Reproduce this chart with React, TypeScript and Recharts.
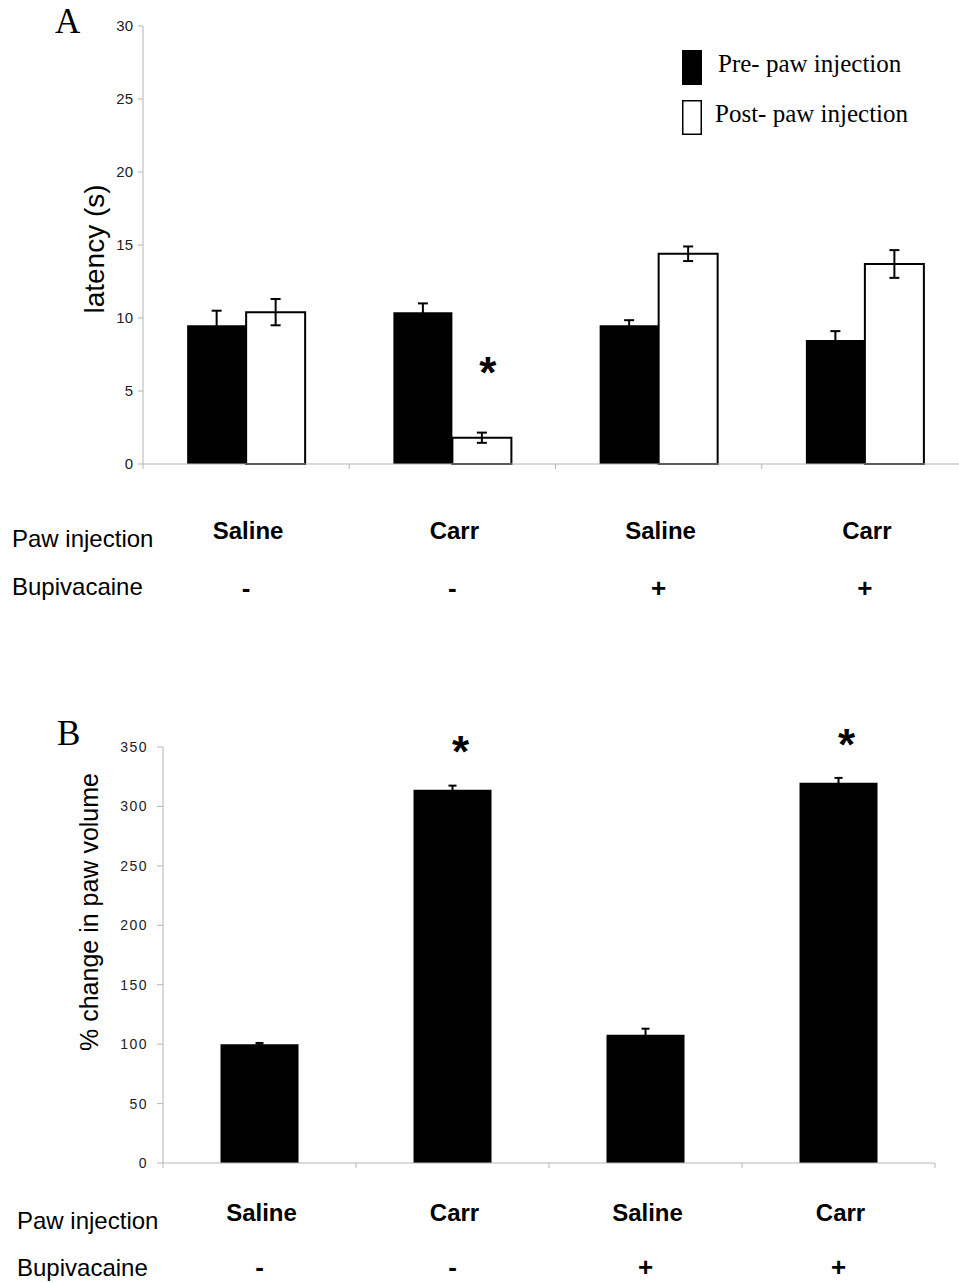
import React from "react";
import { Bar, BarChart, ErrorBar, LabelList, XAxis, YAxis } from "recharts";

const groupLabels = ["Saline", "Carr", "Saline", "Carr"];
const bupivacaineSigns = ["-", "-", "+", "+"];

// panel A: withdrawal latency (s)
const preLatency = [9.5, 10.4, 9.5, 8.5];
const preLatencyErr = [1.0, 0.6, 0.35, 0.6];
const postLatency = [10.4, 1.8, 14.4, 13.7];
const postLatencyErr = [0.9, 0.35, 0.5, 0.95];
const postLatencyStars = ["", "*", "", ""];
const latencyTicks = [0, 5, 10, 15, 20, 25, 30];

// panel B: % change in paw volume
const pawVolume = [100, 314, 108, 320];
const pawVolumeErr = [1, 3.5, 5, 4];
const pawVolumeStars = ["", "*", "", "*"];
const volumeTicks = [0, 50, 100, 150, 200, 250, 300, 350];

const latencyData = groupLabels.map((_, i) => ({
  id: String(i),
  pre: preLatency[i],
  preErr: preLatencyErr[i],
  post: postLatency[i],
  postErr: postLatencyErr[i],
  star: postLatencyStars[i],
}));

const volumeData = groupLabels.map((_, i) => ({
  id: String(i),
  volume: pawVolume[i],
  volumeErr: pawVolumeErr[i],
  star: pawVolumeStars[i],
}));

const SANS = "'Liberation Sans', Arial, sans-serif";
const SERIF = "'Liberation Serif', 'Times New Roman', serif";
const AXIS_GRAY = "#b5b5b5";

interface TickOpts {
  halfBand: number;
  labelDy: number;
  signDy: number;
  rowX: number;
  rowDy1: number;
  rowDy2: number;
}

function makeGroupTick(opts: TickOpts) {
  return (props: any) => {
    const { x, y, payload } = props;
    const i = Number(payload.value);
    const half = payload.offset || opts.halfBand;
    const last = i === groupLabels.length - 1;
    return (
      <g>
        <line x1={x - half} y1={y} x2={x - half} y2={y + 5} stroke={AXIS_GRAY} />
        {last && <line x1={x + half} y1={y} x2={x + half} y2={y + 5} stroke={AXIS_GRAY} />}
        <text
          x={x + 2}
          y={y + opts.labelDy}
          textAnchor="middle"
          dominantBaseline="central"
          fontFamily={SANS}
          fontSize={24}
          fontWeight="bold"
          fill="#000"
        >
          {groupLabels[i]}
        </text>
        <text
          x={x}
          y={y + opts.signDy}
          textAnchor="middle"
          dominantBaseline="central"
          fontFamily={SANS}
          fontSize={26}
          fontWeight="bold"
          fill="#000"
        >
          {bupivacaineSigns[i]}
        </text>
        {i === 0 && (
          <>
            <text x={opts.rowX} y={y + opts.rowDy1} dominantBaseline="central" fontFamily={SANS} fontSize={24} fill="#000">
              Paw injection
            </text>
            <text x={opts.rowX} y={y + opts.rowDy2} dominantBaseline="central" fontFamily={SANS} fontSize={24} fill="#000">
              Bupivacaine
            </text>
          </>
        )}
      </g>
    );
  };
}

function makeStar(lift: number, dx: number) {
  return (p: any) => {
    if (!p.value) return null;
    return (
      <text
        x={p.x + p.width / 2 + dx}
        y={p.y - lift}
        textAnchor="middle"
        fontFamily={SANS}
        fontSize={44}
        fontWeight="bold"
        fill="#000"
      >
        {p.value}
      </text>
    );
  };
}

export default function App() {
  return (
    <div
      style={{
        position: "fixed",
        left: 0,
        top: 0,
        width: 959,
        height: 1283,
        overflow: "hidden",
        background: "#fff",
      }}
    >
      <div style={{ position: "absolute", left: 0, top: 0 }}>
        <BarChart
          width={1000}
          height={604}
          data={latencyData}
          margin={{ top: 26, right: 32, left: 0, bottom: 0 }}
          barGap={0}
          barCategoryGap="21.4%"
        >
          <XAxis
            dataKey="id"
            interval={0}
            height={140}
            tickLine={false}
            tickSize={0}
            tickMargin={0}
            axisLine={{ stroke: AXIS_GRAY }}
            tick={makeGroupTick({ halfBand: 103.1, labelDy: 66, signDy: 124, rowX: 12, rowDy1: 74, rowDy2: 122 })}
          />
          <YAxis
            domain={[0, 30]}
            ticks={latencyTicks}
            interval={0}
            width={143}
            tickSize={5}
            tickMargin={5}
            axisLine={{ stroke: AXIS_GRAY }}
            tickLine={{ stroke: AXIS_GRAY }}
            tick={{ fill: "#222", fontSize: 15, fontFamily: SANS }}
          />
          <Bar dataKey="pre" fill="#000" isAnimationActive={false}>
            <ErrorBar dataKey="preErr" width={5} stroke="#000" strokeWidth={2} />
          </Bar>
          <Bar dataKey="post" fill="#fff" stroke="#000" strokeWidth={2} isAnimationActive={false}>
            <ErrorBar dataKey="postErr" width={5} stroke="#000" strokeWidth={2} />
            <LabelList dataKey="star" content={makeStar(50, 6)} />
          </Bar>
        </BarChart>
      </div>

      <div style={{ position: "absolute", left: 0, top: 640 }}>
        <BarChart
          width={1000}
          height={643}
          data={volumeData}
          margin={{ top: 107, right: 65, left: 0, bottom: 0 }}
          barCategoryGap="29.8%"
        >
          <XAxis
            dataKey="id"
            interval={0}
            height={120}
            tickLine={false}
            tickSize={0}
            tickMargin={0}
            axisLine={{ stroke: AXIS_GRAY }}
            tick={makeGroupTick({ halfBand: 96.5, labelDy: 49, signDy: 104, rowX: 17, rowDy1: 57, rowDy2: 104 })}
          />
          <YAxis
            domain={[0, 350]}
            ticks={volumeTicks}
            interval={0}
            width={163}
            tickSize={6}
            tickMargin={9}
            axisLine={{ stroke: AXIS_GRAY }}
            tickLine={{ stroke: AXIS_GRAY }}
            tick={{ fill: "#222", fontSize: 14, fontFamily: SANS, letterSpacing: 1.5 }}
          />
          <Bar dataKey="volume" fill="#000" isAnimationActive={false}>
            <ErrorBar dataKey="volumeErr" width={4} stroke="#000" strokeWidth={2} />
            <LabelList dataKey="star" content={makeStar(23, 8)} />
          </Bar>
        </BarChart>
      </div>

      <svg
        width={959}
        height={1283}
        style={{ position: "absolute", left: 0, top: 0, pointerEvents: "none" }}
      >
        <text x={55} y={33} fontFamily={SERIF} fontSize={35} fill="#000">A</text>
        <text x={57} y={745} fontFamily={SERIF} fontSize={35} fill="#000">B</text>

        <text
          transform="translate(94 249) rotate(-90)"
          textAnchor="middle"
          dominantBaseline="central"
          fontFamily={SANS}
          fontSize={28}
          fill="#000"
        >
          latency (s)
        </text>
        <text
          transform="translate(89 912) rotate(-90)"
          textAnchor="middle"
          dominantBaseline="central"
          fontFamily={SANS}
          fontSize={25}
          fill="#000"
        >
          % change in paw volume
        </text>

        <rect x={682} y={50} width={20} height={35} fill="#000" />
        <text x={718} y={72} fontFamily={SERIF} fontSize={25} fill="#000">Pre- paw injection</text>
        <rect x={682.75} y={100.75} width={18.5} height={33.5} fill="#fff" stroke="#000" strokeWidth={1.5} />
        <text x={715} y={122} fontFamily={SERIF} fontSize={25} fill="#000">Post- paw injection</text>
      </svg>
    </div>
  );
}
